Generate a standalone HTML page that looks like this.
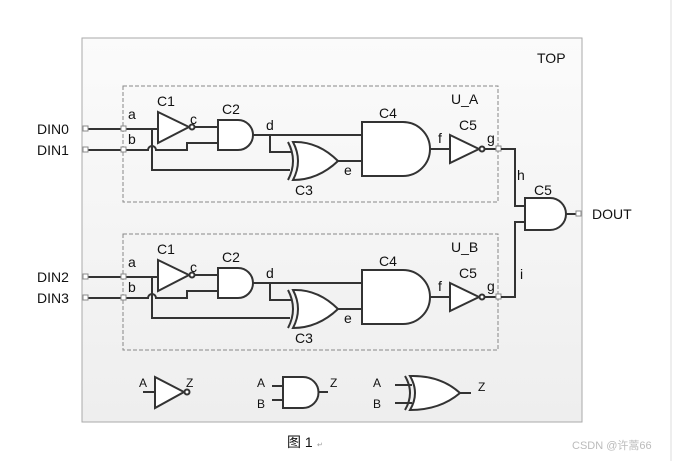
<!DOCTYPE html>
<html><head><meta charset="utf-8"><style>
html,body{margin:0;padding:0;background:#fff;width:675px;height:461px;overflow:hidden}
svg{display:block}
text{font-family:"Liberation Sans","Noto Sans CJK SC",sans-serif;fill:#111}
</style></head><body>
<svg width="675" height="461" viewBox="0 0 675 461" xmlns="http://www.w3.org/2000/svg">
<defs>
<linearGradient id="bg" x1="0" y1="0" x2="0" y2="1"><stop offset="0" stop-color="#fbfbfb"/><stop offset="1" stop-color="#eeeeee"/></linearGradient>
<g id="unit" fill="none" stroke="#333" stroke-width="2">
  <rect x="123" y="86" width="375" height="116" fill="none" stroke="#888" stroke-width="1" stroke-dasharray="4,2"/>
  <path d="M86 129 H158"/>
  <path d="M152 129 V170 H290"/>
  <path d="M86 150 H148 A4 4 0 0 1 156 150 H187 V143 H218"/>
  <path d="M158 112 L189 127 L158 143 Z" fill="#fff"/>
  <circle cx="192" cy="127" r="2.5" fill="#fff"/>
  <path d="M195 127 H218"/>
  <path d="M218 120 H238 A15 15 0 0 1 238 150 H218 Z" fill="#fff"/>
  <path d="M253 135 H362"/>
  <path d="M270 135 V152 H292"/>
  <path d="M337 161 H362"/>
  <path d="M288 142 Q298 161 288 180" />
  <path d="M293 142 Q318 141 338 161 Q318 180 293 180 Q303 161 293 142 Z" fill="#fff"/>
  <path d="M362 122 H403 A27 27 0 0 1 403 176 H362 Z" fill="#fff"/>
  <path d="M430 149 H450"/>
  <path d="M450 135 L479 149 L450 163 Z" fill="#fff"/>
  <circle cx="482" cy="149" r="2.5" fill="#fff"/>
  <path d="M485 149 H496"/>
  <g stroke="#888" stroke-width="1" fill="#fff">
    <rect x="83" y="126" width="5" height="5"/>
    <rect x="83" y="147" width="5" height="5"/>
    <rect x="121" y="126" width="5" height="5"/>
    <rect x="121" y="147" width="5" height="5"/>
    <rect x="496" y="146" width="5" height="5"/>
  </g>
</g>
</defs>
<rect x="82" y="38" width="500" height="384" fill="url(#bg)" stroke="#aaa" stroke-width="1"/>
<line x1="671" y1="0" x2="671" y2="461" stroke="#ddd"/>
<use href="#unit"/>
<use href="#unit" transform="translate(0,148)"/>
<g fill="none" stroke="#333" stroke-width="2">
  <path d="M501 149 H515 V206 H525"/>
  <path d="M501 297 H515 V222 H525"/>
  <path d="M525 198 H550 A16 16 0 0 1 550 230 H525 Z" fill="#fff"/>
  <path d="M566 214 H576"/>
</g>
<rect x="576" y="211" width="5" height="5" fill="#fff" stroke="#888"/>
<g font-size="14">
<text x="537" y="63">TOP</text>
<text x="37" y="134">DIN0</text><text x="37" y="155">DIN1</text>
<text x="37" y="282">DIN2</text><text x="37" y="303">DIN3</text>
<text x="592" y="219">DOUT</text>
<text x="451" y="104">U_A</text><text x="451" y="252">U_B</text>
<g id="lbl">
<text x="128" y="119">a</text><text x="128" y="144">b</text>
<text x="157" y="106">C1</text><text x="190" y="124">c</text>
<text x="222" y="114">C2</text><text x="266" y="130">d</text>
<text x="295" y="195">C3</text><text x="344" y="175">e</text>
<text x="379" y="118">C4</text><text x="438" y="143">f</text>
<text x="459" y="130">C5</text><text x="487" y="143">g</text>
</g>
<use href="#lbl" transform="translate(0,148)"/>
<text x="517" y="180">h</text><text x="520" y="279">i</text>
<text x="534" y="195">C5</text>
</g>
<g fill="none" stroke="#333" stroke-width="2">
  <path d="M143 392 H155"/>
  <path d="M155 377 L184 392 L155 408 Z" fill="#fff"/>
  <circle cx="187" cy="392" r="2.5" fill="#fff"/>
  <path d="M272 386 H283 M272 400 H283"/>
  <path d="M283 377 H303 A15.5 15.5 0 0 1 303 408 H283 Z" fill="#fff"/>
  <path d="M318 392 H328"/>
  <path d="M395 385 H412 M395 403 H412"/>
  <path d="M405 376 Q415 393 405 410"/>
  <path d="M410 376 Q440 375 460 393 Q440 410 410 410 Q420 393 410 376 Z" fill="#fff"/>
  <path d="M460 393 H471"/>
</g>
<g font-size="12">
<text x="139" y="387">A</text><text x="186" y="387">Z</text>
<text x="257" y="387">A</text><text x="257" y="408">B</text><text x="330" y="387">Z</text>
<text x="373" y="387">A</text><text x="373" y="408">B</text><text x="478" y="391">Z</text>
</g>
<text x="287" y="447" font-size="14">图 1</text>
<text x="317" y="447" font-size="7" style="fill:#999">↵</text>
<text x="572" y="449" font-size="11" style="fill:#bbb">CSDN @许蒿66</text>
</svg>
</body></html>
